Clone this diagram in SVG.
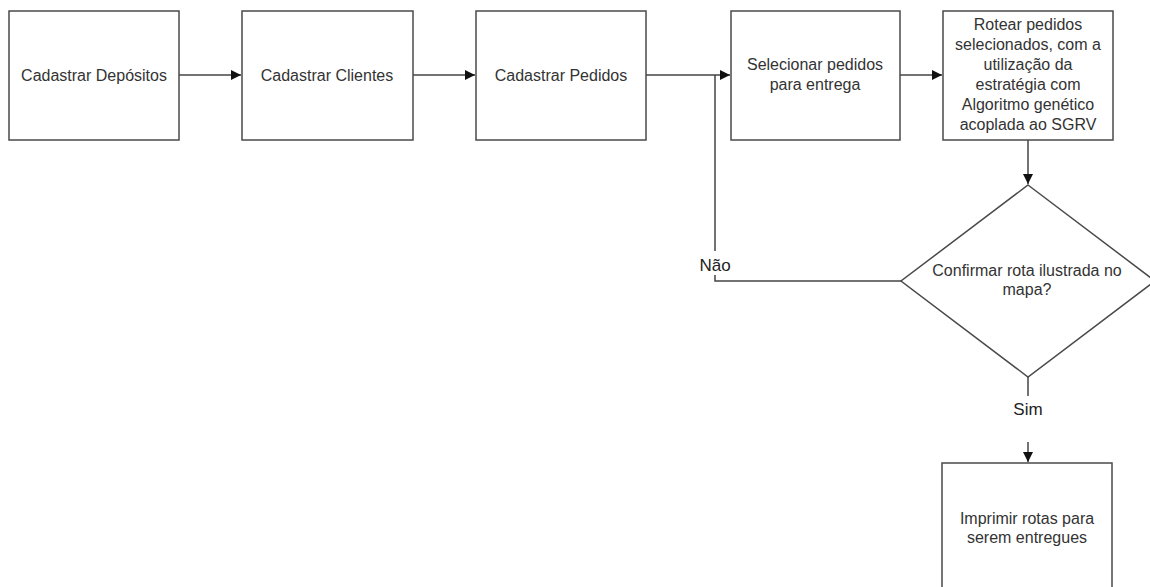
<svg xmlns="http://www.w3.org/2000/svg" width="1150" height="587" viewBox="0 0 1150 587">
  <style>
    .box { fill: #ffffff; stroke: #4a4a4a; stroke-width: 1.5; }
    .lbl { font-family: "Liberation Sans", Arial, sans-serif; font-size: 16px; fill: #333333; text-anchor: middle; }
    .tag { font-family: "Liberation Sans", Arial, sans-serif; font-size: 17px; fill: #222222; text-anchor: middle; }
    .edge { fill: none; stroke: #444444; stroke-width: 1.5; }
  </style>
  <defs>
    <marker id="arrow" viewBox="0 0 10 10" refX="10" refY="5" markerWidth="10" markerHeight="10" markerUnits="userSpaceOnUse" orient="auto">
      <path d="M0,0 L10,5 L0,10 Z" fill="#111111"/>
    </marker>
  </defs>
  <rect width="1150" height="587" fill="#ffffff"/>

  <g id="connectors">
    <line class="edge" x1="179" y1="75" x2="241" y2="75" marker-end="url(#arrow)"/>
    <line class="edge" x1="413" y1="75" x2="475" y2="75" marker-end="url(#arrow)"/>
    <line class="edge" x1="646" y1="75" x2="730" y2="75" marker-end="url(#arrow)"/>
    <line class="edge" x1="900" y1="75" x2="942" y2="75" marker-end="url(#arrow)"/>
    <line class="edge" x1="1028" y1="140" x2="1028" y2="184" marker-end="url(#arrow)"/>
    <!-- "Não" loop back to the selection step -->
    <polyline class="edge" points="901,281 715,281 715,75"/>
    <!-- "Sim" branch -->
    <line class="edge" x1="1028" y1="377" x2="1028" y2="396"/>
    <line class="edge" x1="1028" y1="442" x2="1028" y2="462" marker-end="url(#arrow)"/>
    <rect x="694" y="251" width="42" height="24" fill="#ffffff"/>
    <text class="tag" x="715" y="271">Não</text>
    <text class="tag" x="1028" y="415">Sim</text>
  </g>

  <g id="cadastrar-depositos">
    <rect class="box" x="9" y="11" width="170" height="129"/>
    <text class="lbl" x="94" y="81">Cadastrar Depósitos</text>
  </g>
  <g id="cadastrar-clientes">
    <rect class="box" x="242" y="11" width="171" height="129"/>
    <text class="lbl" x="327" y="81">Cadastrar Clientes</text>
  </g>
  <g id="cadastrar-pedidos">
    <rect class="box" x="476" y="11" width="170" height="129"/>
    <text class="lbl" x="561" y="81">Cadastrar Pedidos</text>
  </g>
  <g id="selecionar-pedidos">
    <rect class="box" x="731" y="11" width="169" height="129"/>
    <text class="lbl" x="815" y="70">Selecionar pedidos</text>
    <text class="lbl" x="815" y="90">para entrega</text>
  </g>
  <g id="rotear-pedidos">
    <rect class="box" x="943" y="11" width="170" height="129"/>
    <text class="lbl" x="1028" y="30">Rotear pedidos</text>
    <text class="lbl" x="1028" y="50">selecionados, com a</text>
    <text class="lbl" x="1028" y="70">utilização da</text>
    <text class="lbl" x="1028" y="90">estratégia com</text>
    <text class="lbl" x="1028" y="110">Algoritmo genético</text>
    <text class="lbl" x="1028" y="130">acoplada ao SGRV</text>
  </g>
  <g id="confirmar-rota">
    <polygon class="box" points="1028,185 1155,281 1028,377 901,281"/>
    <text class="lbl" x="1027" y="276">Confirmar rota ilustrada no</text>
    <text class="lbl" x="1027" y="295">mapa?</text>
  </g>
  <g id="imprimir-rotas">
    <rect class="box" x="942" y="463" width="170" height="129"/>
    <text class="lbl" x="1027" y="524">Imprimir rotas para</text>
    <text class="lbl" x="1027" y="543">serem entregues</text>
  </g>
</svg>
